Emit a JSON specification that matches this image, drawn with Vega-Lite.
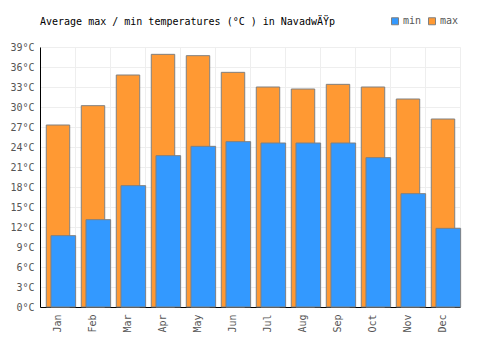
{
  "$schema": "https://vega.github.io/schema/vega-lite/v6.json",
  "autosize": "none",
  "width": 420,
  "height": 260,
  "padding": {"left": 40, "top": 47, "right": 40, "bottom": 43},
  "background": "white",
  "config": {
    "view": {"stroke": "#eeeeee", "strokeWidth": 1},
    "font": "DejaVu Sans Mono",
    "axisY": {"labelOverlap": false}
  },
  "title": {
    "text": "Average max / min temperatures (°C ) in NavadwÄŸp",
    "anchor": "start",
    "frame": "group",
    "font": "DejaVu Sans Mono",
    "fontSize": 10,
    "fontWeight": "normal",
    "color": "#000000",
    "offset": -11
  },
  "data": {
    "values": [
      {"month": "Jan", "min": 10.7, "max": 27.3},
      {"month": "Feb", "min": 13.1, "max": 30.2},
      {"month": "Mar", "min": 18.2, "max": 34.8},
      {"month": "Apr", "min": 22.7, "max": 37.9},
      {"month": "May", "min": 24.1, "max": 37.7},
      {"month": "Jun", "min": 24.8, "max": 35.2},
      {"month": "Jul", "min": 24.6, "max": 33.0},
      {"month": "Aug", "min": 24.6, "max": 32.7},
      {"month": "Sep", "min": 24.6, "max": 33.4},
      {"month": "Oct", "min": 22.4, "max": 33.0},
      {"month": "Nov", "min": 17.0, "max": 31.2},
      {"month": "Dec", "min": 11.8, "max": 28.2}
    ]
  },
  "resolve": {"axis": {"x": "independent"}},
  "layer": [
    {
      "mark": {"type": "bar", "width": {"band": 0.67}, "xOffset": 0.5, "stroke": "#808080", "strokeWidth": 1},
      "encoding": {
        "x": {
          "field": "month", "type": "ordinal", "sort": null,
          "scale": {"paddingInner": 0, "paddingOuter": 0},
          "axis": {"orient": "bottom", "title": null, "labels": false, "ticks": false, "domain": false, "grid": true, "gridColor": "#eeeeee", "bandPosition": 0}
        },
        "y": {
          "field": "max", "type": "quantitative",
          "scale": {"domain": [0, 39], "nice": false},
          "axis": {
            "title": null,
            "values": [0, 3, 6, 9, 12, 15, 18, 21, 24, 27, 30, 33, 36, 39],
            "labelExpr": "datum.value + '°C'",
            "labelOverlap": false,
            "labelFont": "DejaVu Sans Mono",
            "labelFontSize": 10,
            "labelColor": "#555555",
            "labelPadding": 6,
            "ticks": false,
            "domainColor": "#000000",
            "domainWidth": 1,
            "gridColor": "#eeeeee"
          }
        },
        "color": {
          "datum": "max",
          "scale": {"domain": ["min", "max"], "range": ["#3399ff", "#ff9933"]},
          "legend": {
            "title": null,
            "orient": "none",
            "direction": "horizontal",
            "legendX": 350,
            "legendY": -31,
            "symbolType": "square",
            "symbolSize": 49,
            "symbolStrokeColor": "#777777",
            "symbolStrokeWidth": 1,
            "symbolOpacity": 1,
            "labelFont": "DejaVu Sans Mono",
            "labelFontSize": 10,
            "labelColor": "#555555",
            "labelOffset": 3,
            "columnPadding": 4
          }
        }
      }
    },
    {
      "mark": {"type": "bar", "width": {"band": 0.705}, "xOffset": 5.8, "stroke": "#808080", "strokeWidth": 1},
      "encoding": {
        "x": {
          "field": "month", "type": "ordinal", "sort": null,
          "axis": {
            "orient": "bottom",
            "title": null, "labelAngle": 270, "ticks": false, "grid": false,
            "labelFont": "DejaVu Sans Mono", "labelFontSize": 10, "labelColor": "#555555",
            "labelPadding": 7, "domainColor": "#000000", "domainWidth": 1
          }
        },
        "y": {
          "field": "min", "type": "quantitative",
          "axis": {
            "title": null,
            "values": [0, 3, 6, 9, 12, 15, 18, 21, 24, 27, 30, 33, 36, 39],
            "labelExpr": "datum.value + '°C'",
            "labelOverlap": false,
            "labelFont": "DejaVu Sans Mono",
            "labelFontSize": 10,
            "labelColor": "#555555",
            "labelPadding": 6,
            "ticks": false,
            "domainColor": "#000000",
            "domainWidth": 1,
            "gridColor": "#eeeeee"
          }
        },
        "color": {"datum": "min"}
      }
    }
  ]
}
